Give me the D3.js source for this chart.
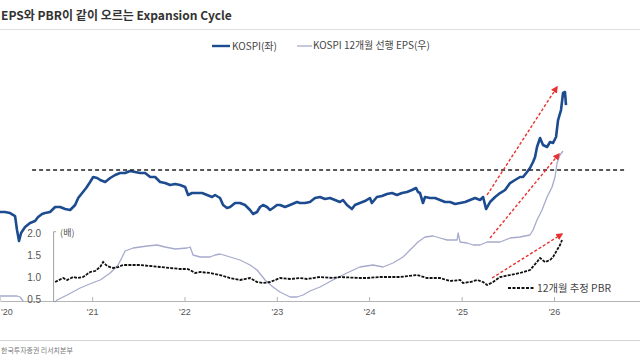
<!DOCTYPE html>
<html><head><meta charset="utf-8">
<script src="https://cdn.jsdelivr.net/npm/d3@7"></script>
<style>
html,body{margin:0;padding:0;background:#fff;overflow:hidden;}
svg{display:block;}
text{font-family:"Liberation Sans","Noto Sans CJK KR",sans-serif;}
</style></head>
<body>
<svg id="chart" width="640" height="360"></svg>
<script>
// ---------------- DATA ----------------
const titleText = "EPS와 PBR이 같이 오르는 Expansion Cycle";
const sourceText = "한국투자증권 리서치본부";
const legendKospi = "KOSPI(좌)";
const legendEps = "KOSPI 12개월 선행 EPS(우)";
const legendPbr = "12개월 추정 PBR";
const pbrUnit = "(배)";
const yearTicks = [2020, 2021, 2022, 2023, 2024, 2025, 2026];
const pbrTicks = [0.5, 1.0, 1.5, 2.0];

// KOSPI (left axis) – time in decimal years
const kospiT = [2020.004,2020.058,2020.113,2020.167,2020.188,2020.210,2020.232,2020.275,2020.329,2020.383,2020.416,2020.459,2020.491,2020.545,2020.600,2020.654,2020.708,2020.762,2020.816,2020.849,2020.892,2020.935,2020.978,2021.011,2021.054,2021.087,2021.141,2021.195,2021.249,2021.303,2021.357,2021.411,2021.465,2021.520,2021.574,2021.628,2021.682,2021.736,2021.790,2021.844,2021.898,2021.952,2022.007,2022.039,2022.082,2022.137,2022.191,2022.245,2022.299,2022.331,2022.385,2022.418,2022.461,2022.494,2022.548,2022.602,2022.656,2022.710,2022.743,2022.786,2022.818,2022.851,2022.894,2022.927,2022.959,2023.002,2023.035,2023.089,2023.143,2023.219,2023.251,2023.305,2023.359,2023.414,2023.468,2023.522,2023.576,2023.630,2023.684,2023.717,2023.760,2023.814,2023.846,2023.900,2023.955,2024.009,2024.030,2024.084,2024.139,2024.193,2024.247,2024.301,2024.355,2024.409,2024.463,2024.507,2024.528,2024.550,2024.582,2024.604,2024.658,2024.712,2024.766,2024.820,2024.874,2024.929,2024.983,2025.037,2025.091,2025.145,2025.199,2025.232,2025.264,2025.307,2025.362,2025.416,2025.470,2025.524,2025.578,2025.632,2025.665,2025.708,2025.740,2025.773,2025.795,2025.816,2025.849,2025.881,2025.925,2025.957,2025.990,2026.022,2026.044,2026.076,2026.098,2026.119,2026.130];
const kospiV = [2196,2196,2170,2091,1723,1434,1644,1802,1907,1960,2065,2144,2170,2196,2328,2328,2275,2249,2381,2565,2696,2828,2985,3117,3091,3038,2985,3091,3170,3222,3222,3275,3248,3222,3222,3117,3117,2985,2959,2906,2933,2906,2854,2644,2696,2696,2696,2644,2591,2644,2565,2381,2302,2328,2433,2433,2381,2249,2144,2196,2328,2381,2328,2249,2302,2381,2381,2328,2381,2459,2433,2433,2459,2565,2591,2538,2565,2512,2459,2512,2381,2275,2381,2433,2485,2565,2433,2591,2617,2670,2696,2644,2696,2722,2775,2828,2722,2696,2433,2591,2565,2565,2512,2459,2459,2407,2433,2459,2512,2565,2512,2591,2275,2459,2591,2696,2775,2959,3038,3117,3117,3248,3354,3511,3643,3906,4143,3958,3906,4037,4011,4169,4616,4879,5326,5352,5010];

// KOSPI 12m forward EPS (right axis)
const epsT = [2020.004,2020.113,2020.188,2020.221,2020.253,2020.329,2020.491,2020.589,2020.621,2020.730,2020.870,2021.000,2021.087,2021.195,2021.281,2021.325,2021.357,2021.444,2021.595,2021.703,2021.790,2021.898,2022.028,2022.061,2022.093,2022.169,2022.277,2022.331,2022.385,2022.494,2022.602,2022.710,2022.786,2022.873,2022.959,2023.035,2023.143,2023.219,2023.284,2023.359,2023.468,2023.608,2023.760,2023.900,2024.041,2024.150,2024.258,2024.366,2024.442,2024.528,2024.604,2024.691,2024.766,2024.842,2024.907,2024.950,2024.961,2024.983,2025.059,2025.124,2025.199,2025.275,2025.416,2025.524,2025.632,2025.740,2025.773,2025.816,2025.870,2025.925,2025.979,2026.011,2026.033,2026.065,2026.098];
const epsV = [158,158,158,156,148,130,128,144,150,160,174,184,190,204,220,236,248,254,258,260,256,252,254,256,240,236,236,240,242,236,230,220,210,190,176,166,156,156,160,168,176,190,204,216,220,216,224,236,250,266,276,278,274,270,270,270,284,266,264,260,260,266,266,274,276,280,290,310,330,356,376,396,424,440,448];

// 12m forward PBR (inset axis)
const pbrT = [2020.600,2020.686,2020.730,2020.795,2020.838,2020.903,2020.978,2021.032,2021.087,2021.119,2021.162,2021.227,2021.281,2021.335,2021.444,2021.520,2021.628,2021.736,2021.844,2021.952,2022.028,2022.061,2022.115,2022.169,2022.277,2022.385,2022.494,2022.602,2022.710,2022.786,2022.851,2022.927,2023.035,2023.143,2023.251,2023.327,2023.468,2023.608,2023.684,2023.900,2023.976,2024.117,2024.333,2024.518,2024.626,2024.766,2024.874,2024.983,2025.015,2025.091,2025.167,2025.232,2025.275,2025.340,2025.416,2025.524,2025.632,2025.740,2025.816,2025.849,2025.903,2025.957,2025.990,2026.033,2026.065,2026.087];
const pbrV = [0.886,0.977,0.932,1.000,0.977,1.000,1.114,1.136,1.227,1.341,1.250,1.205,1.227,1.273,1.273,1.273,1.250,1.227,1.205,1.182,1.182,1.159,1.091,1.114,1.091,1.045,0.977,0.932,0.977,0.886,0.864,0.886,0.977,0.955,0.977,0.955,1.000,0.977,1.000,0.977,0.977,1.000,1.000,1.045,0.977,0.977,0.909,0.932,0.864,0.886,0.932,0.886,0.818,0.886,1.000,1.045,1.091,1.159,1.341,1.432,1.341,1.386,1.455,1.614,1.727,1.841];

// Annotations
const kospiRef = {t0: 2020.351, t1: 2026.779, v: 3300};
const arrowKospi = {t0: 2025.275, v0: 2644, t1: 2026.033, v1: 5484};
const arrowEps = {t0: 2025.307, v0: 274, t1: 2026.054, v1: 442};
const arrowPbr = {t0: 2025.329, v0: 0.977, t1: 2026.087, v1: 1.977};
const pbrAxisT = 2020.578;

// ---------------- HELPERS ----------------
const toDate = t => { const y = Math.floor(t); const s = new Date(y,0,1), e = new Date(y+1,0,1); return new Date(+s + (t-y)*(e-s)); };
const svg = d3.select("#chart");
function measure(str, size, weight, family){
  const t = svg.append("text").attr("font-size", size).attr("font-weight", weight||400)
     .style("font-family", family||null).text(str);
  const w = t.node().getComputedTextLength(); t.remove(); return w;
}

// ---------------- SCALES ----------------
const x = d3.scaleTime().domain([new Date(2020,0,1), new Date(2026,0,1)]).range([-0.4, 554]);
const yL = d3.scaleLinear().domain([1000, 5500]).range([257.5, 86.4]);
const yR = d3.scaleLinear().domain([100, 500]).range([325, 125]);
const yP = d3.scaleLinear().domain([0.5, 2.0]).range([299, 233]);
const axisY = 301;

const COL_KOSPI = "#1c4b8f", COL_EPS = "#a6abcc", COL_PBR = "#111", COL_RED = "#e8312f";

// ---------------- FRAME ----------------
const titleFamily = '"Noto Sans CJK KR", sans-serif';
const fs = 13 * 231 / measure(titleText, 13, 700, titleFamily);
svg.append("text").attr("x", 1).attr("y", 20).attr("font-size", fs).attr("font-weight", 700)
   .style("font-family", titleFamily).attr("fill", "#333").text(titleText);
svg.append("line").attr("x1", 0).attr("x2", 640).attr("y1", 29.5).attr("y2", 29.5).attr("stroke", "#ddd");

svg.append("line").attr("x1", 0).attr("x2", 640).attr("y1", 340.5).attr("y2", 340.5).attr("stroke", "#d4d4d4");
{
  const fam = '"Noto Sans CJK KR", sans-serif';
  const sfs = 7 * 72 / measure(sourceText, 7, 400, fam);
  svg.append("text").attr("x", 1).attr("y", 353).attr("font-size", sfs)
     .style("font-family", fam).attr("fill", "#777").text(sourceText);
}

// clip
svg.append("clipPath").attr("id", "plotclip").append("rect").attr("x", 0).attr("y", 30).attr("width", 640).attr("height", axisY - 30);
const plot = svg.append("g").attr("clip-path", "url(#plotclip)");

// ---------------- X AXIS ----------------
const xAxisScale = x.copy().domain([x.invert(0), x.invert(640)]).range([0, 640]);
const xAxis = svg.append("g").attr("transform", `translate(0,${axisY})`)
  .call(d3.axisBottom(xAxisScale).tickValues(yearTicks.map(y => new Date(y,0,1)))
    .tickFormat(d3.timeFormat("'%y")).tickSizeInner(-4).tickSizeOuter(0).tickPadding(8));
xAxis.select(".domain").attr("stroke", "#b5b5b5");
xAxis.selectAll(".tick line").attr("stroke", "#b5b5b5");
xAxis.selectAll(".tick text").attr("font-size", 9).attr("fill", "#555")
  .style("font-family", '"Liberation Sans", sans-serif');
// keep the first (edge) label inside the picture
xAxis.selectAll(".tick text").filter((d, i) => i === 0).attr("text-anchor", "start").attr("x", 1);

// ---------------- PBR INSET AXIS ----------------
const yPAxisScale = yP.copy().domain([0.45, 2.04]).range([yP(0.45), yP(2.04)]);
const pAxisX = x(toDate(pbrAxisT));
const pAxis = svg.append("g").attr("transform", `translate(${pAxisX},0)`)
  .call(d3.axisLeft(yPAxisScale).tickValues(pbrTicks).tickFormat(d3.format(".1f"))
    .tickSizeInner(0).tickSizeOuter(-3).tickPadding(12));
pAxis.select(".domain").attr("stroke", "#a0a0a0");
pAxis.selectAll(".tick text").attr("font-size", 10).attr("fill", "#555")
  .style("font-family", '"Liberation Sans", sans-serif');
svg.append("text").attr("x", pAxisX + 7).attr("y", yP(2.0)).attr("dy", "0.35em")
  .attr("font-size", 9).attr("fill", "#555").style("font-family", '"Noto Sans CJK KR", sans-serif').text(pbrUnit);

// ---------------- LINES ----------------
const epsData = epsT.map((t,i) => [toDate(t), epsV[i]]);
const kospiData = kospiT.map((t,i) => [toDate(t), kospiV[i]]);
const pbrData = pbrT.map((t,i) => [toDate(t), pbrV[i]]);

plot.append("path").datum(epsData)
  .attr("d", d3.line().x(d => x(d[0])).y(d => yR(d[1])))
  .attr("fill", "none").attr("stroke", COL_EPS).attr("stroke-width", 1.3).attr("stroke-linejoin", "round");

plot.append("path").datum(pbrData)
  .attr("d", d3.line().x(d => x(d[0])).y(d => yP(d[1])))
  .attr("fill", "none").attr("stroke", COL_PBR).attr("stroke-width", 1.8)
  .attr("stroke-dasharray", "3,1.2");

plot.append("path").datum(kospiData)
  .attr("d", d3.line().x(d => x(d[0])).y(d => yL(d[1])))
  .attr("fill", "none").attr("stroke", COL_KOSPI).attr("stroke-width", 2.6).attr("stroke-linejoin", "round");

// reference dashed line (2021 peak)
svg.append("line")
  .attr("x1", x(toDate(kospiRef.t0))).attr("x2", x(toDate(kospiRef.t1)))
  .attr("y1", yL(kospiRef.v)).attr("y2", yL(kospiRef.v))
  .attr("stroke", "#222").attr("stroke-width", 1.4).attr("stroke-dasharray", "4,3");

// arrows
const defs = svg.append("defs");
defs.append("marker").attr("id", "arrowhead").attr("viewBox", "0 0 10 10")
  .attr("refX", 8).attr("refY", 5).attr("markerWidth", 5).attr("markerHeight", 5)
  .attr("orient", "auto").attr("markerUnits", "strokeWidth")
  .append("path").attr("d", "M0,0 L10,5 L0,10 z").attr("fill", COL_RED);
[[arrowKospi, yL], [arrowEps, yR], [arrowPbr, yP]].forEach(([a, ys]) => {
  svg.append("line")
    .attr("x1", x(toDate(a.t0))).attr("y1", ys(a.v0))
    .attr("x2", x(toDate(a.t1))).attr("y2", ys(a.v1))
    .attr("stroke", COL_RED).attr("stroke-width", 1.4).attr("stroke-dasharray", "3,2")
    .attr("marker-end", "url(#arrowhead)");
});

// ---------------- LEGENDS ----------------
const legFam = '"Noto Sans CJK KR", sans-serif';
function legendText(str, x0, y0, target){
  const f = 9 * target / measure(str, 9, 400, legFam);
  svg.append("text").attr("x", x0).attr("y", y0).attr("dy", "0.35em").attr("font-size", f)
    .style("font-family", legFam).attr("fill", "#444").text(str);
}
svg.append("line").attr("x1", 212).attr("x2", 230).attr("y1", 46).attr("y2", 46)
  .attr("stroke", COL_KOSPI).attr("stroke-width", 2.4);
legendText(legendKospi, 232, 46, 45);
svg.append("line").attr("x1", 297).attr("x2", 312).attr("y1", 46).attr("y2", 46)
  .attr("stroke", COL_EPS).attr("stroke-width", 1.3);
legendText(legendEps, 313, 46, 117);
svg.append("line").attr("x1", 508).attr("x2", 534).attr("y1", 288).attr("y2", 288)
  .attr("stroke", COL_PBR).attr("stroke-width", 2).attr("stroke-dasharray", "3,1.5");
legendText(legendPbr, 537, 288, 74);
</script>
</body></html>
